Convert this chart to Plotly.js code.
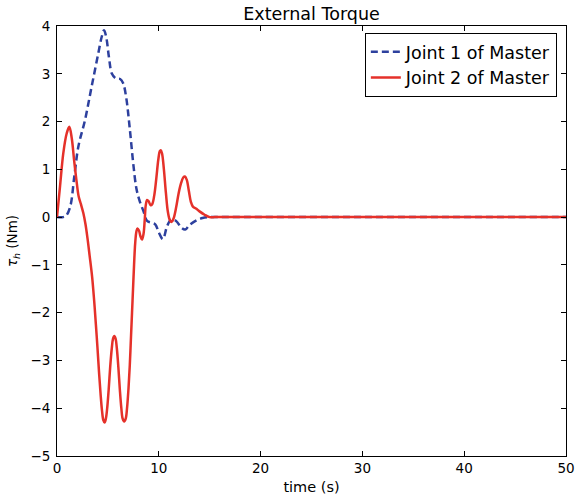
<!DOCTYPE html>
<html>
<head>
<meta charset="utf-8">
<script src="https://cdn.plot.ly/plotly-3.0.1.min.js"></script>
<style>html,body{margin:0;padding:0;background:#fff;}#chart{width:578px;height:502px;}</style>
</head>
<body>
<div id="chart"></div>
<script>
// Joint 1 of Master (dashed blue)
var joint1Time = [0, 0.6, 0.9, 1.3, 1.7, 2.1, 2.75, 3.4, 4.05, 4.4, 4.62, 4.85, 5.1, 5.4, 5.8, 6.2, 6.5, 6.8, 7.15, 7.5, 7.8, 8.1, 8.5, 8.85, 9.3, 9.65, 10.0, 10.4, 10.8, 11.2, 11.7, 12.2, 12.6, 13.0, 13.7, 14.3, 15.0, 15.5, 16, 17, 20, 25, 30, 35, 40, 45, 50];
var joint1Torque = [0, 0, 0.03, 0.22, 0.85, 1.48, 2.03, 2.73, 3.42, 3.78, 3.91, 3.75, 3.35, 3.0, 2.9, 2.89, 2.8, 2.5, 1.85, 1.1, 0.6, 0.35, 0.12, -0.08, -0.12, -0.15, -0.32, -0.46, -0.2, -0.05, -0.08, -0.22, -0.26, -0.17, -0.07, -0.02, 0, 0, 0, 0, 0, 0, 0, 0, 0, 0, 0];
// Joint 2 of Master (solid red)
var joint2Time = [0, 0.3, 0.62, 0.95, 1.21, 1.45, 1.7, 1.95, 2.13, 2.35, 2.59, 2.8, 3.0, 3.2, 3.45, 3.65, 3.82, 3.98, 4.13, 4.28, 4.42, 4.55, 4.67, 4.8, 4.93, 5.08, 5.22, 5.38, 5.5, 5.63, 5.76, 5.88, 6.03, 6.17, 6.32, 6.45, 6.6, 6.75, 6.88, 7.02, 7.15, 7.27, 7.37, 7.47, 7.57, 7.68, 7.8, 7.9, 8.05, 8.2, 8.35, 8.5, 8.62, 8.72, 8.85, 9.0, 9.2, 9.35, 9.55, 9.75, 9.95, 10.1, 10.2, 10.32, 10.5, 10.7, 10.9, 11.1, 11.27, 11.45, 11.7, 11.95, 12.2, 12.4, 12.57, 12.75, 12.95, 13.15, 13.35, 13.65, 14.0, 14.5, 15.0, 15.5, 16, 17, 20, 25, 30, 35, 40, 45, 50];
var joint2Torque = [0, 0.65, 1.34, 1.75, 1.89, 1.65, 1.15, 0.7, 0.43, 0.27, 0.08, -0.15, -0.45, -0.8, -1.25, -1.75, -2.25, -2.75, -3.25, -3.7, -4.05, -4.25, -4.3, -4.22, -4.0, -3.6, -3.15, -2.75, -2.55, -2.49, -2.55, -2.75, -3.15, -3.6, -4.0, -4.22, -4.28, -4.22, -4.0, -3.6, -3.1, -2.5, -2.0, -1.5, -1.0, -0.55, -0.3, -0.24, -0.28, -0.4, -0.47, -0.35, -0.05, 0.25, 0.36, 0.33, 0.25, 0.27, 0.45, 0.8, 1.2, 1.38, 1.4, 1.33, 1.0, 0.5, 0.1, -0.07, -0.1, -0.03, 0.2, 0.5, 0.72, 0.83, 0.85, 0.78, 0.55, 0.32, 0.22, 0.18, 0.12, 0.05, 0, 0, 0, 0, 0, 0, 0, 0, 0, 0, 0];
var xTicks = [0, 10, 20, 30, 40, 50];
var yTicks = [-5, -4, -3, -2, -1, 0, 1, 2, 3, 4];

var font = 'DejaVu Sans, sans-serif';
var traces = [
  {x: joint1Time, y: joint1Torque, mode: 'lines', name: 'Joint 1 of Master',
   line: {color: '#2d409e', width: 2.5, dash: '7px,4px', shape: 'spline', smoothing: 1}},
  {x: joint2Time, y: joint2Torque, mode: 'lines', name: 'Joint 2 of Master',
   line: {color: '#e5312a', width: 2.5, shape: 'spline', smoothing: 1}}
];
var axisCommon = {
  showgrid: false, zeroline: false, showline: true, linecolor: '#000', linewidth: 1,
  mirror: 'ticks', ticks: 'inside', ticklen: 5, tickcolor: '#000', tickwidth: 1,
  tickfont: {family: font, size: 13.5, color: '#000'}
};
var layout = {
  width: 578, height: 502,
  margin: {l: 57, r: 12, t: 26, b: 46},
  paper_bgcolor: '#fff', plot_bgcolor: '#fff',
  title: {text: 'External Torque', font: {family: font, size: 17.5, color: '#000'}, x: 0.539, xanchor: 'center', y: 0.972, yanchor: 'middle'},
  xaxis: Object.assign({}, axisCommon, {range: [0, 50], tickvals: xTicks,
    title: {text: 'time (s)', font: {family: font, size: 14.5, color: '#000'}, standoff: 6}}),
  yaxis: Object.assign({}, axisCommon, {range: [-5, 4], tickvals: yTicks, ticklabelstandoff: 3,
    title: {text: '<i>τ</i><sub><i>h</i></sub> (Nm)', font: {family: font, size: 13.5, color: '#000'}, standoff: 9}}),
  showlegend: true,
  legend: {x: 0.982, xanchor: 'right', y: 0.984, yanchor: 'top', bgcolor: '#fff', bordercolor: '#000', borderwidth: 1,
    font: {family: font, size: 17.5, color: '#000'}, tracegroupgap: 0}
};
Plotly.newPlot('chart', traces, layout, {displayModeBar: false, staticPlot: true});
</script>
</body>
</html>
